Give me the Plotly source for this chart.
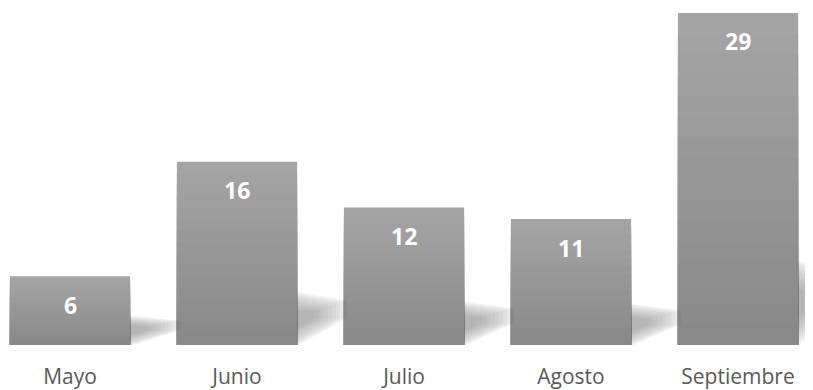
import plotly.graph_objects as go
import numpy as np

categories = ["Mayo", "Junio", "Julio", "Agosto", "Septiembre"]
values = [6, 16, 12, 11, 29]

x = np.arange(len(categories))
vals = np.array(values, dtype=float)
BAR_W = 0.72

fig = go.Figure()

# soft perspective shadows (derived from bar values)
n_layers = 10
for xi, v in zip(x, vals):
    e = xi + BAR_W / 2
    ht = 1.3 + 0.21 * v
    verts = np.array([[e, ht], [e + 0.30, 0.84 * ht], [e + 0.30, 0.5 * ht], [e, -0.1]])
    p = np.array([e, 0.5 * ht])
    for j in range(n_layers):
        s = 1.0 - 0.65 * (j / (n_layers - 1)) ** 1.3
        vv = p + s * (verts - p)
        fig.add_trace(go.Scatter(
            x=list(vv[:, 0]) + [vv[0, 0]], y=list(vv[:, 1]) + [vv[0, 1]],
            mode="lines", line=dict(width=0), fill="toself",
            fillcolor="rgba(0,0,0,0.03)", hoverinfo="skip", showlegend=False,
        ))

# vertical gradient bars: overlaid bars from full height (light top) to short (dark bottom)
N = 16
c_bot = np.array([0x88, 0x88, 0x88])
c_top = np.array([0xa5, 0xa5, 0xa5])
for k in range(N):
    frac = 1.0 - k / N
    t = frac - 0.5 / N
    c = (c_bot + (c_top - c_bot) * t).round().astype(int)
    fig.add_trace(go.Bar(
        x=x, y=vals * frac, base=0,
        width=BAR_W,
        marker=dict(color=f"rgb({c[0]},{c[1]},{c[2]})", line=dict(width=0)),
        hoverinfo="skip", showlegend=False,
    ))

for xi, v in zip(x, values):
    fig.add_annotation(x=xi, y=v, yshift=-28.5, text=f"<b>{v}</b>", showarrow=False,
                       font=dict(family="Open Sans", size=23, color="white"))

fig.update_layout(
    width=805, height=382,
    margin=dict(l=0, r=0, t=0, b=43),
    paper_bgcolor="white", plot_bgcolor="white",
    showlegend=False, barmode="overlay",
    xaxis=dict(range=[-0.3713, 4.449], showgrid=False, zeroline=False, showline=False,
               tickmode="array", tickvals=list(x), ticktext=categories,
               ticks="", ticklabelstandoff=17,
               tickfont=dict(family="Open Sans", size=21, color="#595959")),
    yaxis=dict(range=[0, 29.43], visible=False),
)

fig.write_html("out.html")
